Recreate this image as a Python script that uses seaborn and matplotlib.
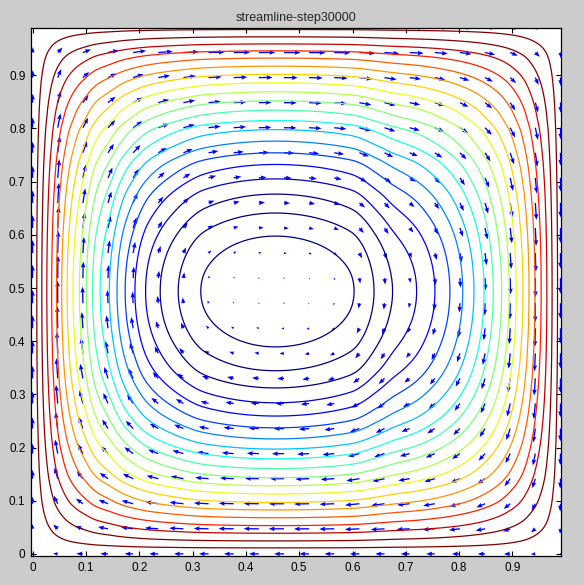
import numpy as np
import matplotlib
matplotlib.use("Agg")
import matplotlib.pyplot as plt
import seaborn as sns

# where each streamline level crosses the middle row / column, innermost first
left_x = [0.314, 0.273, 0.239, 0.211, 0.192, 0.173, 0.158, 0.145, 0.126, 0.111,
          0.102, 0.087, 0.076, 0.064, 0.055, 0.044, 0.036, 0.027, 0.017, 0.008]
right_x = [0.605, 0.640, 0.674, 0.721, 0.755, 0.783, 0.807, 0.828, 0.847, 0.864,
           0.880, 0.894, 0.907, 0.920, 0.931, 0.942, 0.954, 0.965, 0.974, 0.984]
top_y = [0.598, 0.641, 0.677, 0.705, 0.733, 0.754, 0.776, 0.799, 0.814, 0.835,
         0.852, 0.869, 0.886, 0.902, 0.917, 0.933, 0.946, 0.959, 0.972, 0.987]
bottom_y = [0.389, 0.344, 0.312, 0.284, 0.259, 0.237, 0.216, 0.197, 0.179, 0.160,
            0.143, 0.128, 0.113, 0.096, 0.083, 0.068, 0.053, 0.039, 0.024, 0.011]
center_x, center_y = 0.455, 0.494
wall_left, wall_right = 0.0, 0.995
wall_bottom, wall_top = 0.0, 0.997
corner_p = 0.2
n_levels = 20
n_arrows = 22
title = "streamline-step30000"
tick_values = [0, 0.1, 0.2, 0.3, 0.4, 0.5, 0.6, 0.7, 0.8, 0.9]
tick_labels = ["0", "0.1", "0.2", "0.3", "0.4", "0.5", "0.6", "0.7", "0.8", "0.9"]

levels = 1 - np.arange(1, n_levels + 1) / (n_levels + 1)
u_knots = np.concatenate([[0], np.sqrt(1 - levels), [1]])

fine = np.linspace(-0.05, 1.05, 2201)
step = fine[1] - fine[0]
kern = np.exp(-0.5 * (np.arange(-40, 41) * step / 0.007) ** 2)
kern /= kern.sum()


def make_profile(c, before, after, w0, w1):
    sb = np.concatenate([[0], c - np.array(before), [c - w0]])
    sa = np.concatenate([[0], np.array(after) - c, [w1 - c]])
    s = np.abs(fine - c)
    u = np.where(fine < c, np.interp(s, sb, u_knots), np.interp(s, sa, u_knots))
    prof = np.clip(1 - u ** 2, 0, 1)
    prof = np.convolve(np.pad(prof, 40, mode="edge"), kern, mode="valid")
    return lambda t: np.clip(np.interp(t, fine, prof), 1e-9, 1)


prof_x = make_profile(center_x, left_x, right_x, wall_left, wall_right)
prof_y = make_profile(center_y, bottom_y, top_y, wall_bottom, wall_top)


def stream(x, y):
    a = prof_x(x)
    b = prof_y(y)
    return (a ** -corner_p + b ** -corner_p - 1) ** (-1 / corner_p)


sns.set_theme(style="ticks")
plt.rcParams["font.family"] = ["Liberation Sans", "DejaVu Sans"]

fig = plt.figure(figsize=(5.84, 5.85), dpi=100, facecolor="#cccccc")
ax = fig.add_axes([31 / 584, 29 / 585, 530 / 584, 528 / 585])
ax.set_facecolor("white")

g = np.linspace(0, 0.99, 300)
X, Y = np.meshgrid(g, g)
psi = stream(X, Y)

# jet colours, innermost level first (three darkest blues, two darkest reds)
jet = matplotlib.colormaps["jet"]
k = np.arange(1, n_levels + 1)
colors = [jet(v) for v in np.clip((k - 3) / 16, 0, 1)][::-1]
ax.contour(X, Y, psi, levels=np.sort(levels), colors=colors, linewidths=0.9)

q = np.linspace(0, 0.99, n_arrows)
QX, QY = np.meshgrid(q, q)
h = 1e-3
U = -(stream(QX, QY + h) - stream(QX, QY - h)) / (2 * h)
V = (stream(QX + h, QY) - stream(QX - h, QY)) / (2 * h)
speed = np.hypot(U, V).max()
ax.quiver(QX, QY, U, V, color="blue", angles="xy", scale_units="xy",
          scale=speed / (0.9 * (q[1] - q[0])), width=0.0025,
          headwidth=3.5, headlength=4.5, headaxislength=4, pivot="tail")

ax.set_xlim(-0.003, 0.991)
ax.set_ylim(-0.004, 0.989)
ax.set_xticks(tick_values)
ax.set_xticklabels(tick_labels)
ax.set_yticks(tick_values)
ax.set_yticklabels(tick_labels)
ax.tick_params(direction="in", top=True, right=True, length=3.5, width=0.8,
               labelsize=8.5, colors="black", pad=4)
for sp in ax.spines.values():
    sp.set_visible(True)
    sp.set_color("black")
    sp.set_linewidth(0.9)
ax.set_title(title, fontsize=9, pad=5)

fig.savefig("out.png", dpi=100, facecolor=fig.get_facecolor())
